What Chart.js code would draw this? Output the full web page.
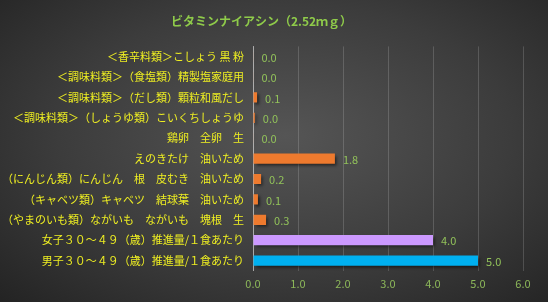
<!DOCTYPE html>
<html>
<head>
<meta charset="utf-8">
<script src="https://cdn.jsdelivr.net/npm/chart.js@4.4.1/dist/chart.umd.min.js"></script>
<style>
html,body{margin:0;padding:0;}
body{width:548px;height:302px;overflow:hidden;background:radial-gradient(ellipse 75% 80% at 52% 45%, #555555 0%, #3c3c3c 55%, #222222 100%);}
#wrap{position:relative;width:548px;height:302px;}
</style>
</head>
<body>
<div id="wrap"><canvas id="c" width="548" height="302"></canvas></div>
<script>
const titleText = 'ビタミンナイアシン（2.52ｍｇ）';
const categories = [
  '＜香辛料類＞こしょう 黒 粉',
  '＜調味料類＞（食塩類）精製塩家庭用',
  '＜調味料類＞（だし類）顆粒和風だし',
  '＜調味料類＞（しょうゆ類）こいくちしょうゆ',
  '鶏卵　全卵　生',
  'えのきたけ　油いため',
  '（にんじん類）にんじん　根　皮むき　油いため',
  '（キャベツ類）キャベツ　結球葉　油いため',
  '（やまのいも類）ながいも　ながいも　塊根　生',
  '女子３０～４９（歳）推進量/１食あたり',
  '男子３０～４９（歳）推進量/１食あたり'
];
const values = [0.01, 0.01, 0.09, 0.04, 0.01, 1.82, 0.18, 0.11, 0.29, 4.0, 5.0];
const xTicks = [0, 1, 2, 3, 4, 5, 6];

const ORANGE = '#EE7A2E', PURPLE = '#CC99FF', BLUE = '#00B0F0';
const barColors = categories.map((c, i) => i === 9 ? PURPLE : (i === 10 ? BLUE : ORANGE));
const FONT = '"Noto Sans CJK JP", "Noto Sans", sans-serif';

const shadowPlugin = {
  id: 'shadow',
  beforeDatasetsDraw(chart) {
    const ctx = chart.ctx;
    ctx.save();
    ctx.shadowColor = 'rgba(0,0,0,0.55)';
    ctx.shadowBlur = 3;
    ctx.shadowOffsetX = 2;
    ctx.shadowOffsetY = 2;
  },
  afterDatasetsDraw(chart) {
    chart.ctx.restore();
    const ctx = chart.ctx;
    const meta = chart.getDatasetMeta(0);
    ctx.save();
    ctx.font = '11px ' + FONT;
    ctx.fillStyle = '#92C25A';
    ctx.textAlign = 'left';
    ctx.textBaseline = 'middle';
    meta.data.forEach((bar, i) => {
      ctx.fillText(values[i].toFixed(1), bar.x + 8, bar.y + 1);
    });
    ctx.restore();
  }
};

new Chart(document.getElementById('c'), {
  type: 'bar',
  data: {
    labels: categories,
    datasets: [{
      data: values,
      backgroundColor: barColors,
      borderWidth: 0,
      categoryPercentage: 1.0,
      barPercentage: 0.5
    }]
  },
  options: {
    indexAxis: 'y',
    responsive: false,
    animation: false,
    devicePixelRatio: 1,
    layout: { padding: { top: 14, right: 25, bottom: 6, left: 0 } },
    plugins: {
      legend: { display: false },
      tooltip: { enabled: false },
      title: {
        display: true,
        text: titleText,
        color: '#8FCB4A',
        font: { family: FONT, size: 12, weight: 'bold' },
        padding: { top: 0, bottom: 18 }
      }
    },
    scales: {
      x: {
        min: 0, max: 6,
        afterBuildTicks(scale) { scale.ticks = xTicks.map(v => ({ value: v })); },
        ticks: {
          color: '#8DB85A',
          font: { family: FONT, size: 11 },
          padding: 6,
          callback: (v) => Number(v).toFixed(1)
        },
        grid: {
          color: 'rgba(255,255,255,0.16)',
          lineWidth: 1,
          drawTicks: false
        },
        border: { display: false }
      },
      y: {
        afterFit(scale) { scale.width = 253; },
        ticks: {
          color: '#EEEE22',
          font: { family: FONT, size: 11 },
          padding: 9,
          autoSkip: false
        },
        grid: { display: false, drawTicks: false },
        border: { display: true, color: 'rgba(220,220,220,0.6)', width: 1 }
      }
    }
  },
  plugins: [shadowPlugin]
});
</script>
</body>
</html>
